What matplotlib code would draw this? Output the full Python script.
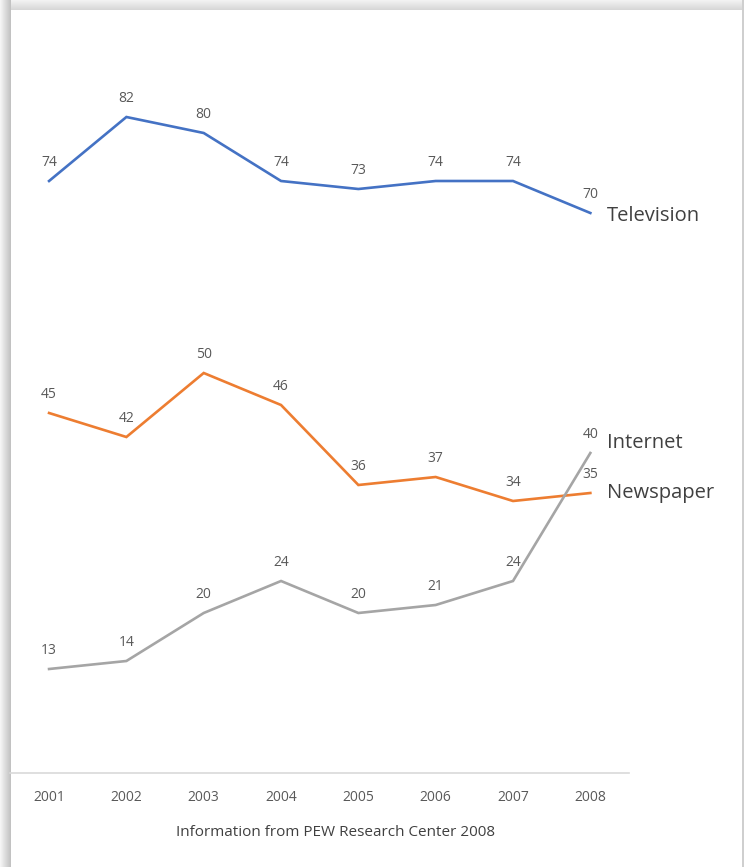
import matplotlib
matplotlib.use("Agg")
import matplotlib.pyplot as plt
from matplotlib.patches import Rectangle

years = ["2001", "2002", "2003", "2004", "2005", "2006", "2007", "2008"]
television = [74, 82, 80, 74, 73, 74, 74, 70]
newspaper = [45, 42, 50, 46, 36, 37, 34, 35]
internet = [13, 14, 20, 24, 20, 21, 24, 40]
series_names = ["Television", "Newspaper", "Internet"]
colors = ["#4472C4", "#ED7D31", "#A5A5A5"]
source = "Information from PEW Research Center 2008"

plt.rcParams['font.family'] = ['Open Sans', 'DejaVu Sans']

W, H = 744, 867
fig = plt.figure(figsize=(W / 100, H / 100), dpi=100)
fig.patch.set_facecolor("white")

def px(x0, y0, w, h, **kw):
    r = Rectangle((x0 / W, 1 - (y0 + h) / H), w / W, h / H, transform=fig.transFigure,
                  edgecolor="none", zorder=0, **kw)
    fig.add_artist(r)

# card shadow: top band, left band, right edge
for i in range(10):
    g = 0.95 - 0.012 * i
    px(0, i, W, 1, facecolor=(g, g, g))
for i in range(11):
    g = 0.96 - 0.02 * i
    px(i, 0, 1, H, facecolor=(g, g, g))
px(742, 0, 2, H, facecolor="#CFCFCF")

ax_left, ax_right, ax_bottom_px, ax_top_px = 10.4, 629, 773, 53
ax = fig.add_axes([ax_left / W, 1 - ax_bottom_px / H, (ax_right - ax_left) / W, (ax_bottom_px - ax_top_px) / H])
ax.set_facecolor("none")
xs = list(range(len(years)))
for name, vals, c in zip(series_names, [television, newspaper, internet], colors):
    ax.plot(xs, vals, color=c, lw=1.9, solid_joinstyle="miter", zorder=3)
    for x, v in zip(xs, vals):
        ax.annotate(str(v), (x, v), xytext=(0, 13), textcoords="offset points",
                    ha="center", va="center", fontsize=10, color="#595959", zorder=4)

label_dy = {"Television": -2.5, "Newspaper": 0, "Internet": 7.5}
for name, vals in zip(series_names, [television, newspaper, internet]):
    ax.annotate(name, (xs[-1], vals[-1]), xytext=(12, label_dy[name]), textcoords="offset points",
                ha="left", va="center", fontsize=14.5, color="#404040", annotation_clip=False)

ax.set_xlim(-0.5, len(years) - 0.5)
ax.set_ylim(0, 90)
ax.set_xticks(xs)
ax.set_xticklabels(years, fontsize=10, color="#595959")
ax.tick_params(axis="x", length=0, pad=12)
ax.set_yticks([])
for s in ["top", "left", "right"]:
    ax.spines[s].set_visible(False)
ax.spines["bottom"].set_color("#D9D9D9")
ax.spines["bottom"].set_linewidth(1.2)

fig.text(335 / W, 1 - 833 / H, source, ha="center", va="center", fontsize=11, color="#404040")

fig.savefig("out.png", dpi=100)
